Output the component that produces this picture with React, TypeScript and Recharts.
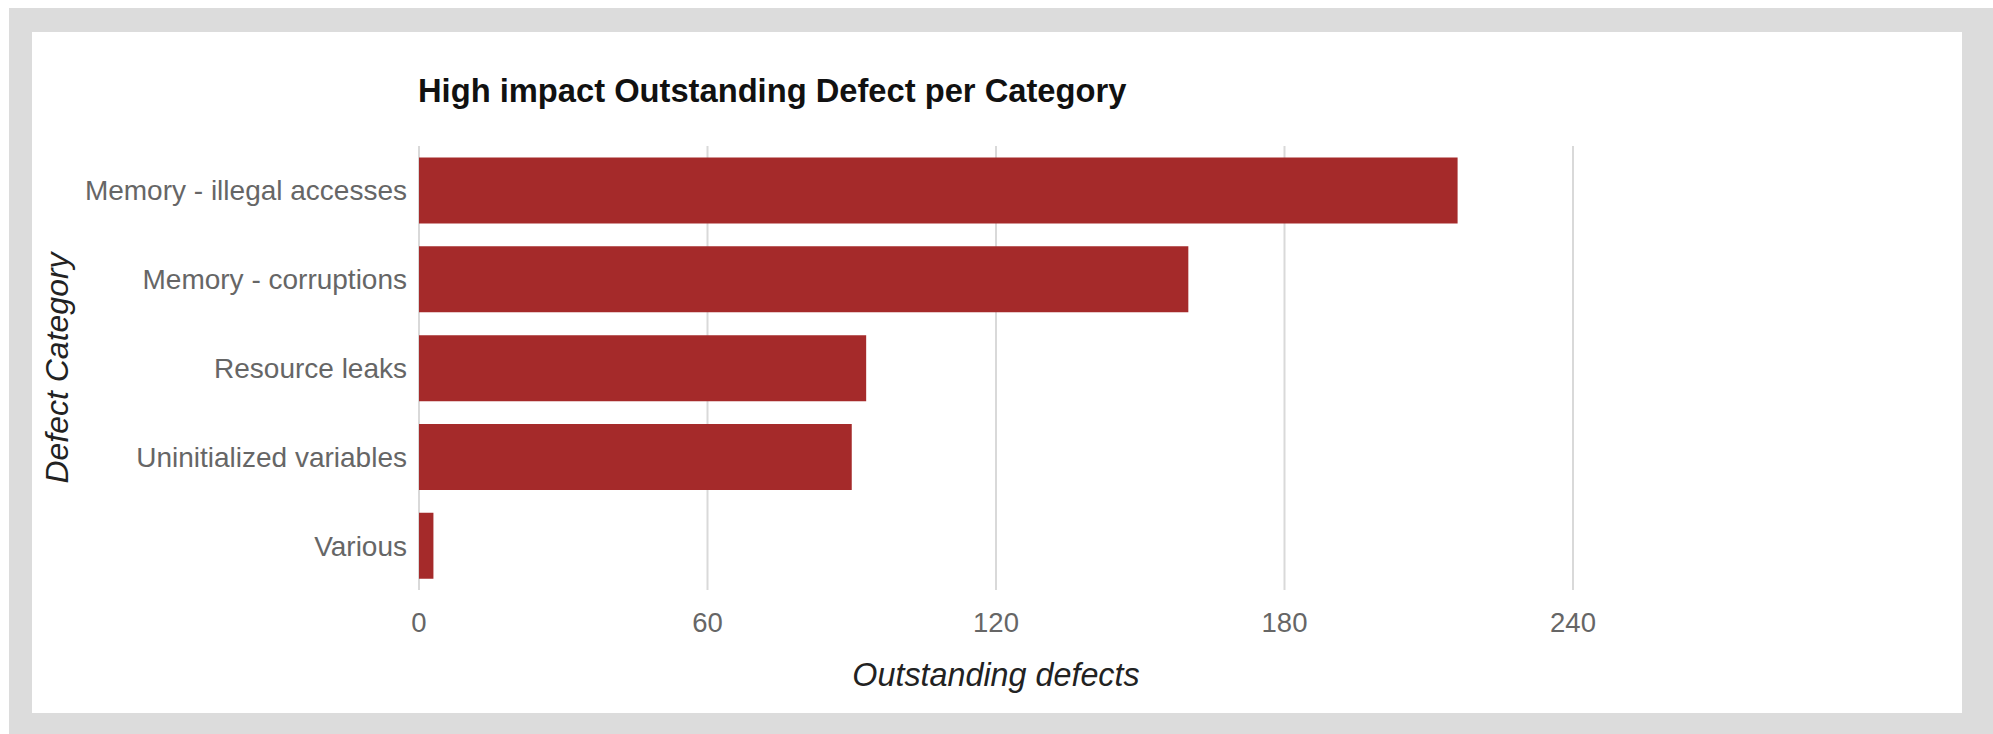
import React from 'react';
import { BarChart, Bar, XAxis, YAxis, CartesianGrid, Label } from 'recharts';

const categories = [
  'Memory - illegal accesses',
  'Memory - corruptions',
  'Resource leaks',
  'Uninitialized variables',
  'Various',
];
const defectCounts = [216, 160, 93, 90, 3];
const xTicks = [0, 60, 120, 180, 240];
const chartTitle = 'High impact Outstanding Defect per Category';
const xAxisTitle = 'Outstanding defects';
const yAxisTitle = 'Defect Category';

const data = categories.map((name, i) => ({ name, value: defectCounts[i] }));

const FONT = '"Liberation Sans", Arial, Helvetica, sans-serif';
const CHART_W = 1930;
const CHART_H = 681;
const PLOT_TOP = 114;
const Y_AXIS_W = 387;
const X_AXIS_H = 123;
const RIGHT_M = 389;

const YTitle = (props: any) => {
  const vb = props && props.viewBox ? props.viewBox : { x: 0, y: PLOT_TOP, width: Y_AXIS_W, height: CHART_H - PLOT_TOP - X_AXIS_H };
  const cx = 25;
  const cy = vb.y + vb.height / 2;
  return (
    <text
      x={cx}
      y={cy}
      transform={`rotate(-90, ${cx}, ${cy})`}
      textAnchor="middle"
      dominantBaseline="central"
      fontStyle="italic"
      fontSize={32}
      fill="#222"
      fontFamily={FONT}
    >
      {yAxisTitle}
    </text>
  );
};

const XTitle = (props: any) => {
  const vb = props && props.viewBox ? props.viewBox : { x: Y_AXIS_W, y: CHART_H - X_AXIS_H, width: CHART_W - Y_AXIS_W - RIGHT_M, height: X_AXIS_H };
  const cx = vb.x + vb.width / 2;
  const cy = vb.y + 85;
  return (
    <text
      x={cx}
      y={cy}
      textAnchor="middle"
      dominantBaseline="central"
      fontStyle="italic"
      fontSize={32.3}
      fill="#222"
      fontFamily={FONT}
    >
      {xAxisTitle}
    </text>
  );
};

export default function App() {
  return (
    <div
      style={{
        position: 'fixed',
        left: 9,
        top: 8,
        width: 1984,
        height: 726,
        background: '#dcdcdc',
      }}
    >
      <div
        style={{
          position: 'absolute',
          left: 23,
          top: 24,
          width: CHART_W,
          height: CHART_H,
          background: '#ffffff',
        }}
      >
        <div
          style={{
            position: 'absolute',
            left: 386,
            top: 43,
            fontFamily: FONT,
            fontWeight: 'bold',
            fontSize: 32.7,
            lineHeight: 1,
            color: '#111',
            whiteSpace: 'nowrap',
          }}
        >
          {chartTitle}
        </div>
        <BarChart
          width={CHART_W}
          height={CHART_H}
          data={data}
          layout="vertical"
          margin={{ top: PLOT_TOP, right: RIGHT_M, bottom: 0, left: 0 }}
          barCategoryGap="13%"
        >
          <CartesianGrid horizontal={false} stroke="#d9d9d9" strokeWidth={2} />
          <XAxis
            type="number"
            domain={[0, 240]}
            ticks={xTicks}
            height={X_AXIS_H}
            axisLine={false}
            tickLine={false}
            tickSize={0}
            tickMargin={22}
            tick={{ fill: '#666', fontSize: 27.5, fontFamily: FONT }}
          >
            <Label content={XTitle} />
          </XAxis>
          <YAxis
            type="category"
            dataKey="name"
            width={Y_AXIS_W}
            axisLine={false}
            tickLine={false}
            tickSize={0}
            tickMargin={12}
            tick={{ fill: '#666', fontSize: 28, fontFamily: FONT }}
          >
            <Label content={YTitle} />
          </YAxis>
          <Bar dataKey="value" fill="#a52a2a" isAnimationActive={false} />
        </BarChart>
      </div>
    </div>
  );
}
